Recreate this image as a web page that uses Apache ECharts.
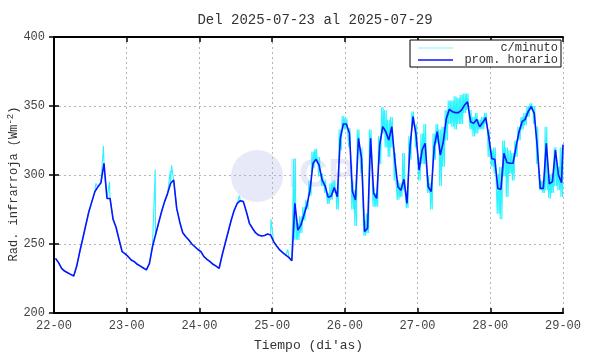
<!DOCTYPE html>
<html>
<head>
<meta charset="utf-8">
<script src="https://cdn.jsdelivr.net/npm/echarts@6/dist/echarts.min.js"></script>
<style>
  html, body { margin: 0; padding: 0; background: #fff; }
  #chart { width: 590px; height: 354px; }
</style>
</head>
<body>
<div id="chart"></div>
<script>
// etiquetas del eje x (una por dia, cada 24 h)
const diaLabels = ['22-00', '23-00', '24-00', '25-00', '26-00', '27-00', '28-00', '29-00'];
const yTicks = [200, 250, 300, 350, 400];

// promedio horario (W/m2), una hora por valor, desde 22-00
const prom22 = [239.6, 236.5, 232.4, 230.4, 229.2, 228, 226.8, 234, 244.4, 254, 263.8, 273.4, 280.7, 288, 291.5, 294.4, 308.5, 283, 283, 267.9, 262, 252.9, 244.4, 242.8];
const prom23 = [240.8, 238.4, 237.2, 235.3, 234, 232.6, 231.2, 236, 248, 256.5, 265, 273.4, 280.7, 286.7, 294, 296.4, 275.8, 266, 258.2, 255.3, 252.9, 250, 248, 246];
const prom24 = [244.4, 240.8, 238.9, 237.2, 235.3, 234, 232.4, 242, 250.5, 258.9, 267.4, 274.6, 279.5, 281.4, 280.7, 273.4, 265, 261.4, 258.2, 256.5, 255.8, 256.2, 257.2, 256.5];
const prom25 = [251.7, 248.6, 245.7, 243.7, 242, 240.3, 237.9, 279.5, 260.1, 263.8, 271, 278.3, 289, 308.5, 311.4, 307.2, 296.4, 292, 283.8, 284.8, 291, 284.3, 326.6, 337];
const prom26 = [337, 330.2, 288, 281.9, 326.6, 312, 259, 261.4, 326.6, 286.7, 283, 321.7, 335, 331.4, 325.4, 335, 310.9, 291.5, 289, 296.9, 279.5, 320.5, 342.3, 329];
const prom27 = [303.6, 318.1, 323, 291.5, 288, 320.5, 331.4, 314.5, 324.2, 341, 347.6, 345.9, 345.2, 345.2, 347, 350.7, 353, 338.6, 337.4, 340.3, 335, 338, 341.5, 327.8];
const prom28 = [311.8, 311.4, 290.3, 289.6, 315.7, 309, 308.5, 308.5, 320.5, 331.4, 338.6, 340.3, 345.9, 349.5, 344.7, 320.5, 290.3, 290.3, 323, 293.5, 295.2, 318.1, 300, 294.4];
const promFin = 322; // ultimo valor en 29-00

// datos por minuto: picos sueltos [hora, valor] en la parte tranquila
const picos = [[13.8, 294], [16.3, 321], [16.6, 302], [18.3, 295], [33.4, 304], [38.4, 303], [38.8, 307], [61.2, 285], [71.6, 268], [77.2, 246]];
// desde la hora 79: maximo y minimo de cada hora
const inicioRuido = 79;
const minHi = [312, 265, 270, 277, 282, 296, 317, 319, 313, 301, 296, 287, 294, 296, 289, 333, 343, 341, 334, 296, 289, 333, 320, 267, 272, 333, 291, 287, 328, 349, 347, 340, 342, 316, 296, 294, 316, 289, 328, 346, 337, 313, 330, 337, 299, 294, 330, 337, 333, 335, 347, 354, 354, 357, 356, 358, 359, 359, 347, 342, 345, 340, 342, 345, 333, 318, 320, 301, 306, 325, 320, 318, 316, 325, 335, 342, 345, 350, 352, 350, 335, 296, 296, 335, 299, 301, 320, 306, 320];
const minLo = [253, 253, 258, 267, 275, 285, 305, 310, 299, 292, 287, 279, 282, 287, 275, 318, 333, 333, 320, 275, 263, 320, 301, 256, 258, 316, 277, 277, 308, 330, 320, 313, 320, 296, 282, 284, 289, 276, 311, 335, 320, 296, 308, 308, 287, 275, 311, 323, 292, 306, 325, 337, 335, 333, 337, 337, 345, 347, 333, 328, 330, 333, 333, 337, 313, 306, 301, 272, 268, 299, 284, 301, 296, 313, 325, 333, 336, 342, 347, 337, 308, 289, 287, 289, 283, 287, 292, 289, 284];

const prom = [].concat(prom22, prom23, prom24, prom25, prom26, prom27, prom28);
const promData = prom.map((v, i) => [i + 0.5, v]);
promData.push([168, promFin]);

let minData = [];
prom.forEach((v, i) => {
  if (i < inicioRuido) {
    minData.push([i + 0.5, v]);
  } else {
    let hi = minHi[i - inicioRuido], lo = minLo[i - inicioRuido];
    minData.push([i + 0.1, hi], [i + 0.3, lo], [i + 0.5, v], [i + 0.65, hi], [i + 0.85, lo]);
  }
});
picos.forEach(p => minData.push(p));
minData.push([168, promFin]);
minData.sort((a, b) => a[0] - b[0]);

const fuente = 'Liberation Mono';
const chart = echarts.init(document.getElementById('chart'), null, { renderer: 'canvas' });

const option = {
  animation: false,
  backgroundColor: '#fff',
  title: {
    text: 'Del 2025-07-23 al 2025-07-29',
    left: 310, top: 8, textAlign: 'center',
    textStyle: { fontFamily: fuente, fontSize: 14, fontWeight: 'normal', color: '#333' }
  },
  grid: { left: 54, right: 27, top: 37, bottom: 41, outerBoundsMode: 'none', containLabel: false },
  graphic: [
    { type: 'circle', z: -1, shape: { cx: 257, cy: 176, r: 26 }, style: { fill: 'rgba(215,218,245,0.6)' } },
    { type: 'text', z: -1, left: 288, top: 156, style: { text: 'ICP', font: 'bold 40px Liberation Sans', fill: 'rgba(215,218,245,0.6)' } },
    // titulo del eje y
    {
      type: 'text', x: 14, y: 184, rotation: Math.PI / 2,
      style: {
        text: 'Rad. infrarroja (Wm{s|-2})',
        fontFamily: fuente, fontSize: 12, fill: '#333',
        align: 'center', verticalAlign: 'middle',
        rich: { s: { fontFamily: fuente, fontSize: 9, fill: '#333', verticalAlign: 'top', padding: [0, 0, 6, 0] } }
      }
    }
  ],
  legend: {
    orient: 'vertical',
    right: 29, top: 40,
    backgroundColor: '#fff',
    borderColor: '#000', borderWidth: 1, borderRadius: 0,
    padding: [2, 3, 1, 8],
    itemGap: 0,
    itemWidth: 35, itemHeight: 1.5,
    icon: 'rect',
    formatter: n => '{t|' + n + '}',
    textStyle: {
      rich: { t: { fontFamily: fuente, fontSize: 12, color: '#333', width: 100, align: 'right', lineHeight: 13 } }
    },
    data: ['c/minuto', 'prom. horario']
  },
  xAxis: [
    {
      type: 'value', min: 0, max: 168, interval: 24,
      name: "Tiempo (di'as)", nameLocation: 'middle', nameGap: 26,
      nameTextStyle: { fontFamily: fuente, fontSize: 13, color: '#333' },
      axisLine: { lineStyle: { color: '#000', width: 2 } },
      axisTick: { inside: true, length: 5, lineStyle: { color: '#000', width: 1.5 } },
      axisLabel: {
        fontFamily: fuente, fontSize: 12, color: '#444', margin: 7,
        formatter: v => diaLabels[v / 24]
      },
      splitLine: { show: true, lineStyle: { color: '#b4b4b4', type: [2, 3], width: 1 } }
    },
    {
      type: 'value', min: 0, max: 168, interval: 24, position: 'top',
      axisLine: { lineStyle: { color: '#000', width: 2 } },
      axisTick: { inside: true, length: 5, lineStyle: { color: '#000', width: 1.5 } },
      axisLabel: { show: false },
      splitLine: { show: false }
    }
  ],
  yAxis: [
    {
      type: 'value', min: 200, max: 400, interval: 50,
      axisLine: { show: true, lineStyle: { color: '#000', width: 2 } },
      axisTick: { show: true, inside: true, length: 5, lineStyle: { color: '#000', width: 1.5 } },
      axisLabel: {
        fontFamily: fuente, fontSize: 12, color: '#444', margin: 9,
        formatter: v => (yTicks.indexOf(v) >= 0 ? String(v) : '')
      },
      splitLine: { show: true, lineStyle: { color: '#b4b4b4', type: [2, 3], width: 1 } }
    },
    {
      type: 'value', min: 200, max: 400, interval: 50, position: 'right',
      axisLine: { show: true, lineStyle: { color: '#000', width: 2 } },
      axisTick: { show: true, inside: true, length: 5, lineStyle: { color: '#000', width: 1.5 } },
      axisLabel: { show: false },
      splitLine: { show: false }
    }
  ],
  series: [
    {
      name: 'c/minuto', type: 'line', data: minData,
      showSymbol: false, symbol: 'none',
      lineStyle: { color: '#2ef3ff', width: 1.1 },
      itemStyle: { color: '#aef7ff' },
      z: 2
    },
    {
      name: 'prom. horario', type: 'line', data: promData,
      showSymbol: false, symbol: 'none',
      lineStyle: { color: '#0a14ff', width: 1.6 },
      itemStyle: { color: '#0a14ff' },
      z: 3
    }
  ]
};
chart.setOption(option);
</script>
</body>
</html>
